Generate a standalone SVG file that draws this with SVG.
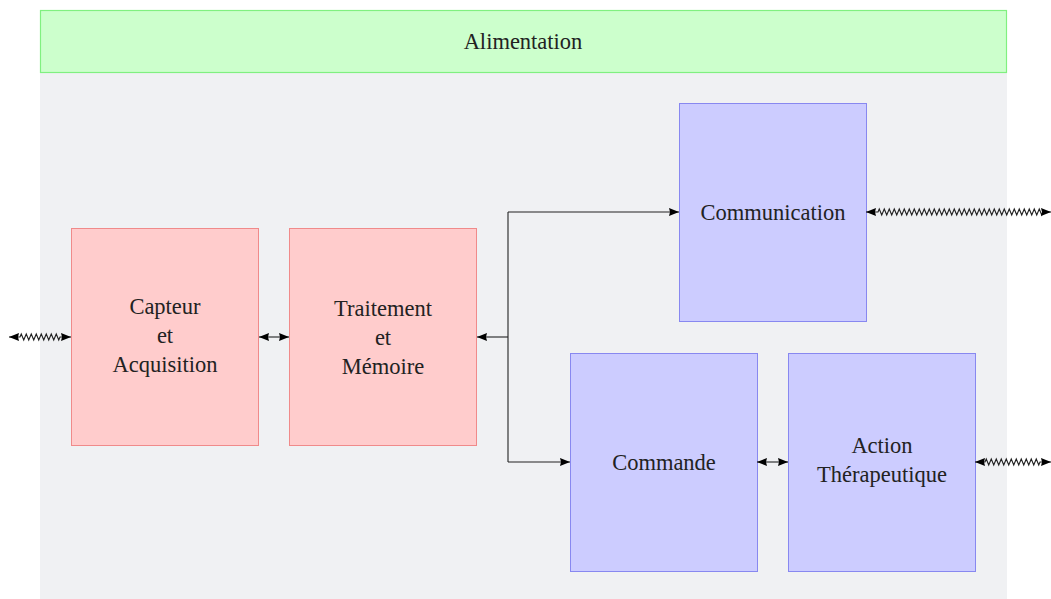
<svg xmlns="http://www.w3.org/2000/svg" width="1051" height="599" viewBox="0 0 1051 599">
<defs>
<marker id="arr" viewBox="0 0 10 9" refX="10" refY="4.5" markerWidth="10" markerHeight="9" markerUnits="userSpaceOnUse" orient="auto-start-reverse">
<path d="M0,0.5 L10,4.5 L0,8.5 L1,4.5 z" fill="#000"/>
</marker>
</defs>
<style>
.bg{fill:#f0f1f3;}
.green{fill:#ccffcc;stroke:#80f080;stroke-width:1.2;}
.red{fill:#ffcccc;stroke:#f08a8a;stroke-width:1;}
.blue{fill:#ccccff;stroke:#8888f0;stroke-width:1;}
text{font-family:"Liberation Serif","DejaVu Serif",serif;font-size:22.5px;fill:#222;text-anchor:middle;}
.c{fill:none;stroke:#222;stroke-width:1.1;}
.ca{fill:none;stroke:#222;stroke-width:1.1;marker-end:url(#arr);}
.cb{fill:none;stroke:#222;stroke-width:1.1;marker-start:url(#arr);marker-end:url(#arr);}
</style>
<rect class="bg" x="40" y="72" width="967" height="527"/>
<g id="alimentation">
<rect class="green" x="40.5" y="10.5" width="966" height="62"/>
<text x="523" y="49">Alimentation</text>
</g>
<g id="capteur">
<rect class="red" x="71.5" y="228.5" width="187" height="217"/>
<text x="165" y="314">Capteur</text>
<text x="165" y="343">et</text>
<text x="165" y="372">Acquisition</text>
</g>
<g id="traitement">
<rect class="red" x="289.5" y="228.5" width="187" height="217"/>
<text x="383" y="316">Traitement</text>
<text x="383" y="345">et</text>
<text x="383" y="374">Mémoire</text>
</g>
<g id="communication">
<rect class="blue" x="679.5" y="103.5" width="187" height="218"/>
<text x="773" y="220">Communication</text>
</g>
<g id="commande">
<rect class="blue" x="570.5" y="353.5" width="187" height="218"/>
<text x="664" y="470">Commande</text>
</g>
<g id="action">
<rect class="blue" x="788.5" y="353.5" width="187" height="218"/>
<text x="882" y="453">Action</text>
<text x="882" y="482">Thérapeutique</text>
</g>
<g id="connectors">
<path class="cb" d="M9,337 H20
l1.25,-3 l2.5,6 l1.25,-3 l1.25,-3 l2.5,6 l1.25,-3 l1.25,-3 l2.5,6 l1.25,-3 l1.25,-3 l2.5,6 l1.25,-3
l1.25,-3 l2.5,6 l1.25,-3 l1.25,-3 l2.5,6 l1.25,-3 l1.25,-3 l2.5,6 l1.25,-3 l1.25,-3 l2.5,6 l1.25,-3
H71"/>
<path class="cb" d="M259,337 H289"/>
<path class="ca" d="M508,337 H477"/>
<path class="c" d="M508,212 V462"/>
<path class="ca" d="M508,212 H679"/>
<path class="ca" d="M508,462 H570"/>
<path class="cb" d="M757,462 H788"/>
<path class="cb" d="M866,212 H878
l1.25,-3 l2.5,6 l1.25,-3 l1.25,-3 l2.5,6 l1.25,-3 l1.25,-3 l2.5,6 l1.25,-3 l1.25,-3 l2.5,6 l1.25,-3
l1.25,-3 l2.5,6 l1.25,-3 l1.25,-3 l2.5,6 l1.25,-3 l1.25,-3 l2.5,6 l1.25,-3 l1.25,-3 l2.5,6 l1.25,-3
l1.25,-3 l2.5,6 l1.25,-3 l1.25,-3 l2.5,6 l1.25,-3 l1.25,-3 l2.5,6 l1.25,-3 l1.25,-3 l2.5,6 l1.25,-3
l1.25,-3 l2.5,6 l1.25,-3 l1.25,-3 l2.5,6 l1.25,-3 l1.25,-3 l2.5,6 l1.25,-3 l1.25,-3 l2.5,6 l1.25,-3
l1.25,-3 l2.5,6 l1.25,-3 l1.25,-3 l2.5,6 l1.25,-3 l1.25,-3 l2.5,6 l1.25,-3 l1.25,-3 l2.5,6 l1.25,-3
l1.25,-3 l2.5,6 l1.25,-3 l1.25,-3 l2.5,6 l1.25,-3 l1.25,-3 l2.5,6 l1.25,-3 l1.25,-3 l2.5,6 l1.25,-3
l1.25,-3 l2.5,6 l1.25,-3 l1.25,-3 l2.5,6 l1.25,-3 l1.25,-3 l2.5,6 l1.25,-3 l1.25,-3 l2.5,6 l1.25,-3
l1.25,-3 l2.5,6 l1.25,-3 l1.25,-3 l2.5,6 l1.25,-3 l1.25,-3 l2.5,6 l1.25,-3 l1.25,-3 l2.5,6 l1.25,-3
l1.25,-3 l2.5,6 l1.25,-3
H1051"/>
<path class="cb" d="M975,462 H985
l1.25,-3 l2.5,6 l1.25,-3 l1.25,-3 l2.5,6 l1.25,-3 l1.25,-3 l2.5,6 l1.25,-3 l1.25,-3 l2.5,6 l1.25,-3
l1.25,-3 l2.5,6 l1.25,-3 l1.25,-3 l2.5,6 l1.25,-3 l1.25,-3 l2.5,6 l1.25,-3 l1.25,-3 l2.5,6 l1.25,-3
l1.25,-3 l2.5,6 l1.25,-3 l1.25,-3 l2.5,6 l1.25,-3 l1.25,-3 l2.5,6 l1.25,-3
H1051"/>
</g>
</svg>
